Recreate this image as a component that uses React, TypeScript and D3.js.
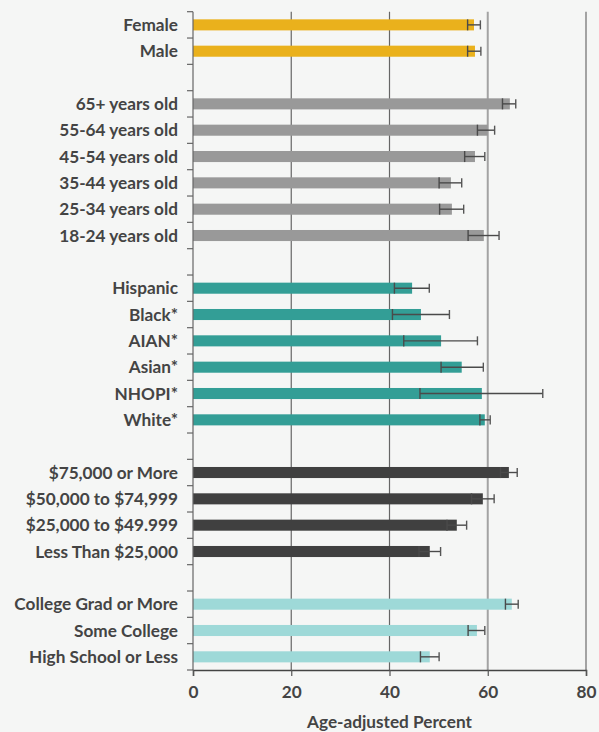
import { useEffect, useRef } from 'react'
import * as d3 from 'd3'

// rows top to bottom; empty strings are the gaps between groups
const labels = [
  'Female', 'Male', '',
  '65+ years old', '55-64 years old', '45-54 years old', '35-44 years old', '25-34 years old', '18-24 years old', '',
  'Hispanic', 'Black*', 'AIAN*', 'Asian*', 'NHOPI*', 'White*', '',
  '$75,000 or More', '$50,000 to $74,999', '$25,000 to $49.999', 'Less Than $25,000', '',
  'College Grad or More', 'Some College', 'High School or Less',
]
const groups = [
  'sex', 'sex', '',
  'age', 'age', 'age', 'age', 'age', 'age', '',
  'race', 'race', 'race', 'race', 'race', 'race', '',
  'income', 'income', 'income', 'income', '',
  'edu', 'edu', 'edu',
]
const values = [
  57.2, 57.4, null,
  64.5, 60.0, 57.4, 52.5, 52.7, 59.2, null,
  44.6, 46.4, 50.5, 54.7, 58.8, 59.4, null,
  64.3, 59.0, 53.7, 48.2, null,
  64.9, 57.8, 48.2,
]
const lower = [
  55.9, 55.9, null,
  63.0, 57.9, 55.3, 50.1, 50.2, 56.0, null,
  41.0, 40.6, 42.9, 50.5, 46.2, 58.4, null,
  62.6, 56.7, 51.7, 46.0, null,
  63.6, 56.0, 46.3,
]
const upper = [
  58.5, 58.6, null,
  65.7, 61.4, 59.4, 54.7, 55.1, 62.3, null,
  48.1, 52.2, 57.9, 59.1, 71.2, 60.5, null,
  66.0, 61.3, 55.7, 50.4, null,
  66.2, 59.4, 50.1,
]
const xTicks = [0, 20, 40, 60, 80]

const colors: Record<string, string> = {
  sex: '#EAB11C',
  age: '#999999',
  race: '#339E96',
  income: '#404040',
  edu: '#9ED9D8',
}

const W = 599
const H = 732
const FONT = 'Lato, "Noto Sans", sans-serif'
const FS = 17.2

export default function App() {
  const svgRef = useRef<SVGSVGElement>(null)

  useEffect(() => {
    document.body.style.margin = '0'
    document.body.style.background = '#f5f6f5'
    if (!svgRef.current) return

    const margin = { top: 11.7, left: 193, right: 13, bottom: 62 }
    const innerW = W - margin.left - margin.right
    const innerH = H - margin.top - margin.bottom

    const svg = d3.select(svgRef.current)
    svg.selectAll('*').remove()
    const g = svg.append('g').attr('transform', `translate(${margin.left},${margin.top})`)

    const x = d3.scaleLinear().domain([0, 80]).range([0, innerW])
    const y = d3.scaleBand<number>().domain(d3.range(labels.length)).range([0, innerH])
    const barH = y.bandwidth() * 0.42

    // grid
    g.selectAll('line.grid')
      .data(xTicks.filter(t => t > 0))
      .join('line')
      .attr('class', 'grid')
      .attr('x1', d => x(d)).attr('x2', d => x(d))
      .attr('y1', 0).attr('y2', innerH)
      .attr('stroke', d => (d > 40 ? '#a3a3a3' : '#666'))
      .attr('stroke-width', d => (d > 40 ? 2 : 1.2))

    const rows = labels.map((label, i) => ({ i, label, group: groups[i], v: values[i], lo: lower[i], hi: upper[i] }))
      .filter(r => r.v != null)

    // bars
    g.selectAll('rect.bar')
      .data(rows)
      .join('rect')
      .attr('class', 'bar')
      .attr('x', x(0))
      .attr('y', d => (y(d.i) ?? 0) + y.bandwidth() / 2 - barH / 2)
      .attr('width', d => x(d.v as number) - x(0))
      .attr('height', barH)
      .attr('fill', d => colors[d.group])

    // error bars
    const eb = g.selectAll('g.err').data(rows).join('g').attr('class', 'err')
      .attr('transform', d => `translate(0,${(y(d.i) ?? 0) + y.bandwidth() / 2})`)
    eb.append('line')
      .attr('x1', d => x(d.lo as number)).attr('x2', d => x(d.hi as number))
      .attr('stroke', '#4a4a4a').attr('stroke-width', 1.4)
    eb.append('line')
      .attr('x1', d => x(d.lo as number)).attr('x2', d => x(d.lo as number))
      .attr('y1', -barH / 2).attr('y2', barH / 2)
      .attr('stroke', '#4a4a4a').attr('stroke-width', 1.4)
    eb.append('line')
      .attr('x1', d => x(d.hi as number)).attr('x2', d => x(d.hi as number))
      .attr('y1', -barH / 2 + 1).attr('y2', barH / 2 - 1)
      .attr('stroke', '#555').attr('stroke-width', 1.4)

    // y axis with ticks on band boundaries
    g.append('line')
      .attr('x1', 0).attr('x2', 0).attr('y1', 0).attr('y2', innerH)
      .attr('stroke', '#666').attr('stroke-width', 1.2)
    g.selectAll('line.ytick')
      .data(d3.range(labels.length + 1))
      .join('line')
      .attr('class', 'ytick')
      .attr('x1', -6).attr('x2', 0)
      .attr('y1', d => d * y.step()).attr('y2', d => d * y.step())
      .attr('stroke', '#666').attr('stroke-width', 1.2)

    g.selectAll('text.ylab')
      .data(rows)
      .join('text')
      .attr('class', 'ylab')
      .attr('x', -15)
      .attr('y', d => (y(d.i) ?? 0) + y.bandwidth() / 2)
      .attr('dy', '0.35em')
      .attr('text-anchor', 'end')
      .attr('font-family', FONT).attr('font-weight', 700).attr('font-size', FS)
      .attr('fill', '#444')
      .text(d => d.label)

    // x axis
    const xa = g.append('g').attr('transform', `translate(0,${innerH})`)
      .call(d3.axisBottom(x).tickValues(xTicks).tickSize(6).tickPadding(10).tickFormat(d => `${d}`))
    xa.select('.domain').attr('stroke', '#444').attr('stroke-width', 1.5)
    xa.selectAll('line').attr('stroke', '#555').attr('stroke-width', 1.2)
    xa.selectAll('text')
      .attr('font-family', FONT).attr('font-weight', 700).attr('font-size', FS).attr('fill', '#444')

    g.append('text')
      .attr('x', innerW / 2).attr('y', innerH + 52)
      .attr('dy', '0.35em')
      .attr('text-anchor', 'middle')
      .attr('font-family', FONT).attr('font-weight', 700).attr('font-size', FS).attr('fill', '#444')
      .text('Age-adjusted Percent')
  }, [])

  return <svg ref={svgRef} width={W} height={H} style={{ display: 'block', background: '#f5f6f5' }} />
}
